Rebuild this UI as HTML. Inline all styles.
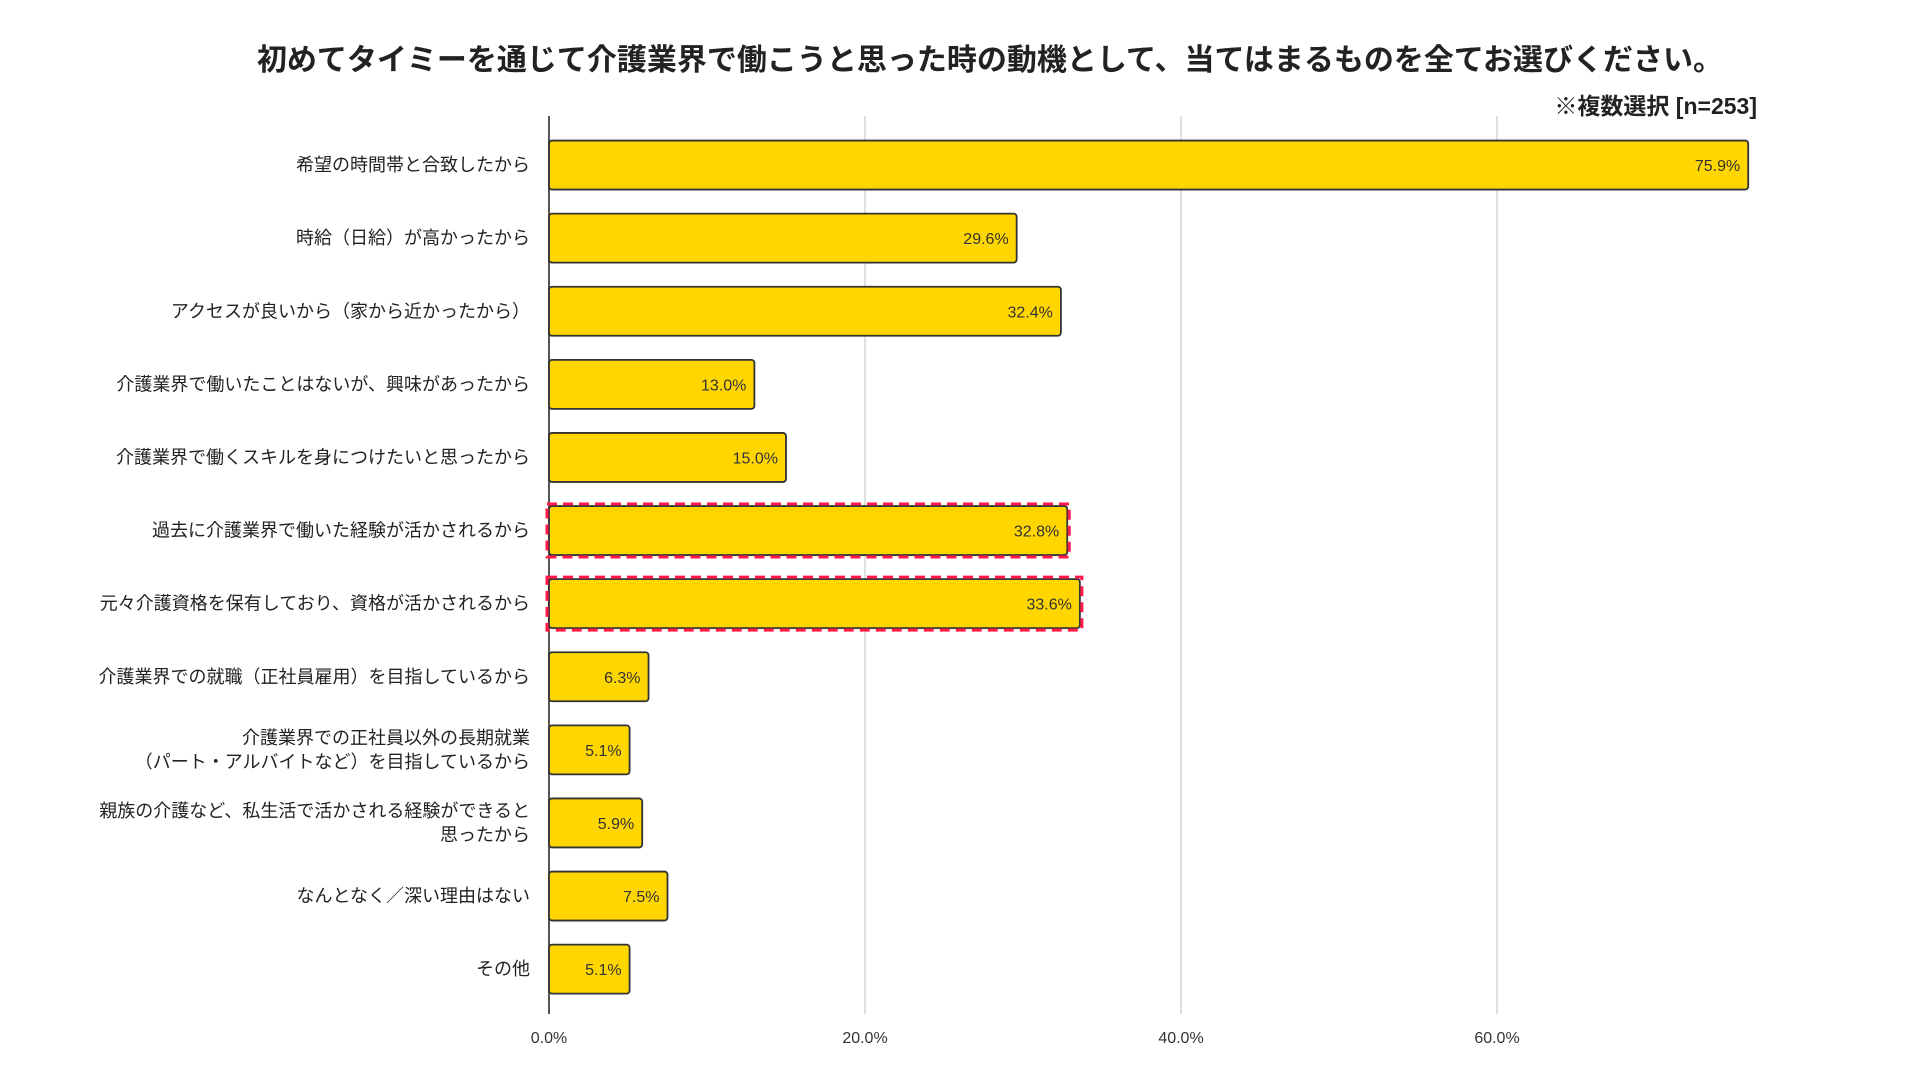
<!DOCTYPE html>
<html><head><meta charset="utf-8"><style>
html,body{margin:0;padding:0;background:#fff;}
svg{display:block;font-family:"Liberation Sans","Noto Sans CJK JP",sans-serif;}
</style></head><body>
<svg id="chart" width="1920" height="1080" viewBox="0 0 1920 1080">
<text x="990" y="70" text-anchor="middle" font-size="30" font-weight="bold" fill="#222">初めてタイミーを通じて介護業界で働こうと思った時の動機として、当てはまるものを全てお選びください。</text>
<text x="1757" y="114" text-anchor="end" font-size="23" font-weight="bold" fill="#222">※複数選択 [n=253]</text>
<g id="grid"></g><g id="bars"></g><g id="labels"></g><g id="ticks"></g><g id="highlights"></g>
</svg>
<script>
const categories = ["希望の時間帯と合致したから","時給（日給）が高かったから","アクセスが良いから（家から近かったから）","介護業界で働いたことはないが、興味があったから","介護業界で働くスキルを身につけたいと思ったから","過去に介護業界で働いた経験が活かされるから","元々介護資格を保有しており、資格が活かされるから","介護業界での就職（正社員雇用）を目指しているから","介護業界での正社員以外の長期就業|（パート・アルバイトなど）を目指しているから","親族の介護など、私生活で活かされる経験ができると|思ったから","なんとなく／深い理由はない","その他"];
const values = [75.9,29.6,32.4,13.0,15.0,32.8,33.6,6.3,5.1,5.9,7.5,5.1];
const ticks = [0,20,40,60];
const highlighted = [5,6];
const NS="http://www.w3.org/2000/svg";
const x0=549, pxPer=15.8, plotTop=116, plotBottom=1014, rowTop=128.5, pitch=73.1, barH=49;
const xs=v=>x0+v*pxPer;
const ys=i=>rowTop+i*pitch;
function mk(tag,attrs,parent,text){const e=document.createElementNS(NS,tag);for(const k in attrs)e.setAttribute(k,attrs[k]);if(text!==undefined)e.textContent=text;parent.appendChild(e);return e;}
const grid=document.getElementById('grid'),bars=document.getElementById('bars'),labels=document.getElementById('labels'),tk=document.getElementById('ticks'),hl=document.getElementById('highlights');
ticks.forEach(t=>{
  const l=mk('line',{x1:xs(t),x2:xs(t),y1:plotTop,y2:plotBottom,stroke:t===0?'#555':'#ccc','stroke-width':t===0?2:1.2},grid);
  
  
  const tx=mk('text',{x:xs(t),y:1043,'text-anchor':'middle','font-size':16,fill:'#333'},tk,t.toFixed(1)+'%');
  
  
});
values.forEach((v,i)=>{
  const y=ys(i);
  const r=mk('rect',{x:x0,y:y+(pitch-barH)/2,width:xs(v)-x0,height:barH,rx:3,fill:'#FFD600',stroke:'#333','stroke-width':1.8},bars);
  
  
  const vt=mk('text',{x:xs(v)-8,y:y+pitch/2+6,'text-anchor':'end','font-size':16,fill:'#333'},labels,v.toFixed(1)+'%');
  
  
  const parts=categories[i].split('|');
  parts.forEach((p,j)=>{
    const cy=y+pitch/2+6+(j-(parts.length-1)/2)*24;
    const ct=mk('text',{x:530,y:cy,'text-anchor':'end','font-size':18,fill:'#222'},labels,p);
    
    
  });
});
highlighted.forEach(i=>{
  const y=ys(i);
  const h=mk('rect',{x:x0-2,y:y+(pitch-barH)/2-2,width:xs(values[i])-x0+4,height:barH+4,fill:'none',stroke:'#ff1a4a','stroke-width':3,'stroke-dasharray':'10 6'},hl);
  
  
});
</script>
</body></html>
